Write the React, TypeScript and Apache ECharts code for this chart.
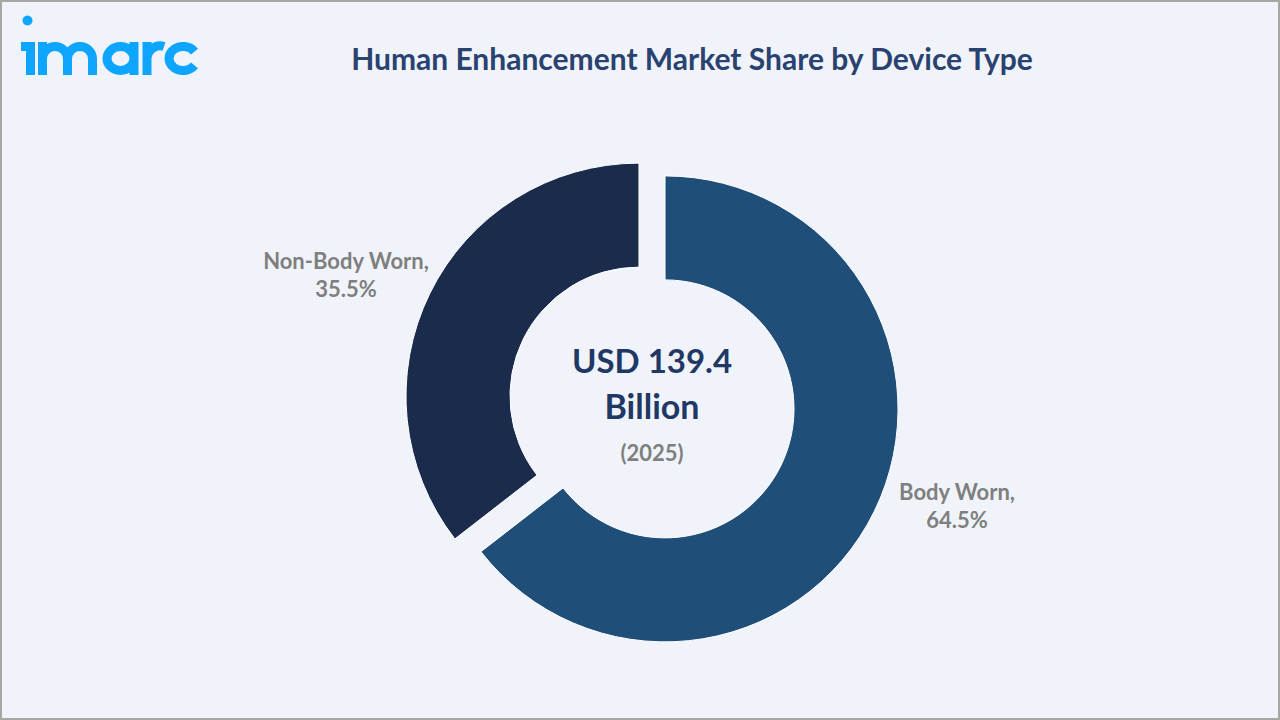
import * as echarts from "echarts";
import { useEffect, useRef } from "react";

const categories = ["Body Worn", "Non-Body Worn"];
const shares = [64.5, 35.5];
const sliceColors = ["#1f4e79", "#1a2b4c"];
const chartTitle = "Human Enhancement Market Share by Device Type";
const centerLines = ["USD 139.4", "Billion"];
const centerYear = "(2025)";

const FONT = "Lato";
const labelSpots = [
  { x: 957, y: 505 },
  { x: 346, y: 274 },
];

const logoPath =
  "M21 46.5 H30.5 V75 " +
  "M42.5 75 V42 M42.5 59 A12.5 12.5 0 0 1 67.5 59 V75 M67.5 59 A12.5 12.5 0 0 1 92.5 59 V75 " +
  "M134 42 V75 M134 58.5 A13.5 12 0 1 0 107 58.5 A13.5 12 0 1 0 134 58.5 " +
  "M147 75 V42 M147 60 A13 13.5 0 0 1 164 46.5 " +
  "M194.5 51.6 A14 12 0 1 0 194.5 65.4";
echarts.graphic.registerShape("imarcLogo", echarts.graphic.extendPath(logoPath, {}) as any);

const centerText = (text: string, x: number, y: number, fontSize: number, fill: string) => ({
  type: "text",
  x,
  y,
  style: {
    text,
    align: "center",
    verticalAlign: "middle",
    fontFamily: FONT,
    fontSize,
    fontWeight: "bold",
    lineHeight: 28,
    fill,
  },
});

export default function App() {
  const chartRef = useRef<HTMLDivElement | null>(null);

  useEffect(() => {
    if (!chartRef.current) return;
    const chart = echarts.init(chartRef.current, undefined, { renderer: "svg" });
    chart.setOption({
      animation: false,
      backgroundColor: "#f0f4fa",
      title: {
        text: chartTitle,
        left: 687,
        top: 53,
        textAlign: "center",
        textVerticalAlign: "middle",
        textStyle: { fontFamily: FONT, fontSize: 30, fontWeight: "bold", color: "#2a4270" },
      },
      series: [
        {
          type: "pie",
          center: [652, 402.5],
          radius: [129, 233],
          startAngle: 90,
          clockwise: true,
          selectedMode: "multiple",
          selectedOffset: 14.5,
          emphasis: { disabled: true },
          itemStyle: { borderColor: "#ffffff", borderWidth: 1 },
          label: { show: false },
          labelLine: { show: false },
          data: categories.map((name, i) => ({
            name,
            value: shares[i],
            selected: true,
            itemStyle: { color: sliceColors[i] },
          })),
        },
      ],
      graphic: [
        {
          type: "rect",
          shape: { x: 1, y: 1, width: 1278, height: 718 },
          style: { fill: "none", stroke: "#a6a6a6", lineWidth: 2 },
          silent: true,
        },
        { type: "circle", shape: { cx: 27.5, cy: 20.5, r: 5 }, style: { fill: "#0ea5ff" } },
        {
          type: "imarcLogo",
          x: 0,
          y: 0,
          style: { fill: "none", stroke: "#0ea5ff", lineWidth: 9 },
        },
        ...categories.map((name, i) =>
          centerText(`${name},\n${shares[i]}%`, labelSpots[i].x, labelSpots[i].y, 22, "#7f7f7f"),
        ),
        { ...centerText(centerLines[0], 652, 360, 33, "#1f3864") },
        { ...centerText(centerLines[1], 652, 405, 34, "#1f3864") },
        { ...centerText(centerYear, 652, 452, 22, "#7f7f7f") },
      ],
    });
    return () => chart.dispose();
  }, []);

  return (
    <div
      ref={chartRef}
      style={{ position: "absolute", left: 0, top: 0, width: 1280, height: 720 }}
    />
  );
}
